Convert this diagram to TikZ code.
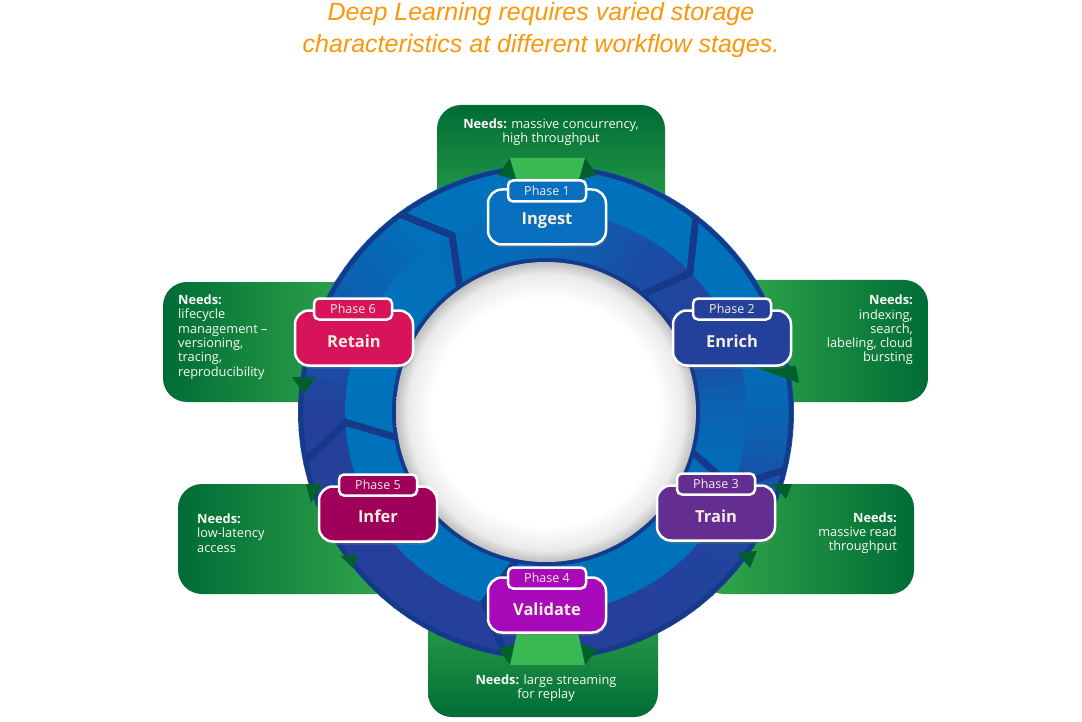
\documentclass[tikz,border=0pt]{standalone}
\usepackage{fontspec}
\setmainfont{Open Sans}
\newfontfamily\titlefont{Liberation Sans}
\usetikzlibrary{shadows}
\definecolor{ringlight}{RGB}{0,114,188}
\definecolor{ringdark}{RGB}{36,64,155}
\definecolor{ringline}{RGB}{22,58,138}
\definecolor{gdark}{RGB}{0,108,54}
\definecolor{glight}{RGB}{52,170,76}
\definecolor{gtrap}{RGB}{58,184,82}
\definecolor{gfold}{RGB}{0,96,44}
\definecolor{titleorange}{RGB}{252,150,10}
\definecolor{ptext}{RGB}{248,238,222}
\definecolor{needstext}{RGB}{250,250,245}
\definecolor{cingest}{RGB}{8,110,190}
\definecolor{cenrich}{RGB}{35,65,155}
\definecolor{ctrain}{RGB}{100,45,145}
\definecolor{cvalidate}{RGB}{168,10,185}
\definecolor{cinfer}{RGB}{158,0,90}
\definecolor{cretain}{RGB}{215,20,90}
\pgfdeclareradialshading{discshade}{\pgfpoint{0bp}{0bp}}{color(0bp)=(white); color(19bp)=(white); color(23bp)=(black!8); color(25bp)=(black!25); color(50bp)=(black!25)}
\begin{document}
\begin{tikzpicture}[x=1pt,y=-1pt,
  greenbox/.style={rounded corners=24pt},
  needs/.style={text=needstext, font=\fontsize{12.8}{14.3}\selectfont, inner sep=0pt},
  phasebox/.style={draw=white, line width=2.5pt, rounded corners=14pt, minimum width=118pt, minimum height=55pt, inner sep=0pt, drop shadow={shadow xshift=1pt, shadow yshift=-3pt, opacity=0.35}},
  phasetab/.style={draw=white, line width=2.5pt, rounded corners=5pt, minimum width=78pt, minimum height=21pt, inner sep=0pt, text=ptext, font=\fontsize{12.5}{14}\selectfont},
  phasename/.style={text=ptext, font=\bfseries\fontsize{16.5}{20}\selectfont, inner sep=0pt},
  fold/.style={fill=gfold},
  trap/.style={fill=gtrap}
]
\useasboundingbox (0,0) rectangle (1082,722);
\fill[white] (0,0) rectangle (1082,722);

% title
\node[font=\titlefont\itshape\fontsize{25}{32}\selectfont, text=titleorange, align=center, inner sep=0pt] (title) at (541,30) {Deep Learning requires varied storage\\characteristics at different workflow stages.};

% green boxes
\path[greenbox, top color=gdark, bottom color=glight] (437,105) rectangle (665,240);
\path[greenbox, left color=glight, right color=gdark] (720,280) rectangle (928,402);
\path[greenbox, left color=glight, right color=gdark] (700,484) rectangle (914,594);
\path[greenbox, top color=glight, bottom color=gdark] (428,590) rectangle (658,717);
\path[greenbox, left color=gdark, right color=glight] (178,484) rectangle (400,594);
\path[greenbox, left color=gdark, right color=glight] (163,282) rectangle (370,402);

% ring bands
\def\otab{{25,0,0,0,0,40,100,100,100,100,100,90,25}}
\def\itab{{30,100,70,20,10,0,0,0,0,0,0,0,30}}
\foreach \a in {0,4,...,356}{
  \pgfmathsetmacro\am{\a+2}
  \pgfmathtruncatemacro\idx{floor(\am/30)}
  \pgfmathtruncatemacro\jdx{\idx+1}
  \pgfmathsetmacro\fr{(\am-30*\idx)/30}
  \pgfmathtruncatemacro\dout{\otab[\idx]*(1-\fr)+\otab[\jdx]*\fr}
  \pgfmathtruncatemacro\din{\itab[\idx]*(1-\fr)+\itab[\jdx]*\fr}
  \pgfmathsetmacro\aend{\a+4.4}
  \pgfmathsetmacro\ahalf{\a+2.2}
  \fill[ringdark!\dout!ringlight] ({546+199*cos(\a)},{412-199*sin(\a)}) -- ({546+248*cos(\a)},{412-248*sin(\a)}) -- ({546+248*cos(\ahalf)},{412-248*sin(\ahalf)}) -- ({546+248*cos(\aend)},{412-248*sin(\aend)}) -- ({546+199*cos(\aend)},{412-199*sin(\aend)}) -- ({546+199*cos(\ahalf)},{412-199*sin(\ahalf)}) -- cycle;
  \fill[ringdark!\din!ringlight] ({546+149*cos(\a)},{412-149*sin(\a)}) -- ({546+201*cos(\a)},{412-201*sin(\a)}) -- ({546+201*cos(\ahalf)},{412-201*sin(\ahalf)}) -- ({546+201*cos(\aend)},{412-201*sin(\aend)}) -- ({546+149*cos(\aend)},{412-149*sin(\aend)}) -- ({546+149*cos(\ahalf)},{412-149*sin(\ahalf)}) -- cycle;
}
% chevrons
\begin{scope}
\clip (546,412) circle[radius=247pt];
\foreach \t in {118,44,-22,-108,183}{
  \draw[ringline, line width=7pt, line join=miter] ({546+250*cos(\t+9)},{412-250*sin(\t+9)}) -- ({546+200*cos(\t)},{412-200*sin(\t)}) -- ({546+150*cos(\t+7)},{412-150*sin(\t+7)});
}
\end{scope}
\draw[ringline, line width=4.5pt] (546,412) circle[radius=245pt];
\draw[ringline, line width=4pt] (546,412) circle[radius=152pt];
\shade[shading=discshade] (546,412) circle[radius=150pt];

% green arrow folds and trapezoids
\fill[fold] (510,158) -- (498,175) -- (517,180) -- cycle;
\fill[fold] (585,158) -- (597,175) -- (578,180) -- cycle;
\fill[trap] (510,158) -- (585,158) -- (577,186) -- (518,186) -- cycle;
\fill[fold] (510,665) -- (498,649) -- (517,643) -- cycle;
\fill[fold] (585,665) -- (597,649) -- (578,643) -- cycle;
\fill[trap] (518,628) -- (577,628) -- (585,665) -- (510,665) -- cycle;
\fill[fold] (752,366) -- (796,366) -- (799,383) -- cycle;
\fill[fold] (772,484) -- (792,484) -- (786,499) -- cycle;
\fill[fold] (737,553) -- (757,551) -- (750,568) -- cycle;
\fill[fold] (306,484) -- (322,484) -- (311,503) -- cycle;
\fill[fold] (340,556) -- (358,555) -- (353,568) -- cycle;
\fill[fold] (292,377) -- (316,377) -- (304,394) -- cycle;

% phase boxes
\node[phasebox, fill=cingest] (ingest) at (547,217) {};
\node[phasetab, fill=cingest] (ingesttab) at (547,191) {Phase 1};
\node[phasename] (ingestname) at (547,221) {Ingest};

\node[phasebox, fill=cenrich] (enrich) at (732,338) {};
\node[phasetab, fill=cenrich] (enrichtab) at (732,309) {Phase 2};
\node[phasename] (enrichname) at (732,341) {Enrich};

\node[phasebox, fill=ctrain] (train) at (716,513) {};
\node[phasetab, fill=ctrain] (traintab) at (716,484) {Phase 3};
\node[phasename] (trainname) at (716,516) {Train};

\node[phasebox, fill=cvalidate] (validate) at (547,605) {};
\node[phasetab, fill=cvalidate] (validatetab) at (547,578) {Phase 4};
\node[phasename] (validatename) at (547,609) {Validate};

\node[phasebox, fill=cinfer] (infer) at (378,514) {};
\node[phasetab, fill=cinfer] (infertab) at (378,485) {Phase 5};
\node[phasename] (infername) at (378,516) {Infer};

\node[phasebox, fill=cretain] (retain) at (354,338) {};
\node[phasetab, fill=cretain] (retaintab) at (353,309) {Phase 6};
\node[phasename] (retainname) at (354,341) {Retain};

% needs texts
\node[needs, align=center] (needsingest) at (551,132) {\textbf{Needs:} massive concurrency,\\high throughput};
\node[needs, align=right, anchor=east] (needsenrich) at (913,330) {\textbf{Needs:}\\indexing,\\search,\\labeling, cloud\\bursting};
\node[needs, align=right, anchor=east] (needstrain) at (897,533) {\textbf{Needs:}\\massive read\\throughput};
\node[needs, align=center] (needsvalidate) at (546,688) {\textbf{Needs:} large streaming\\for replay};
\node[needs, align=left, anchor=west] (needsinfer) at (197,533) {\textbf{Needs:}\\low-latency\\access};
\node[needs, align=left, anchor=west] (needsretain) at (178,337) {\textbf{Needs:}\\lifecycle\\management –\\versioning,\\tracing,\\reproducibility};
\end{tikzpicture}
\end{document}
